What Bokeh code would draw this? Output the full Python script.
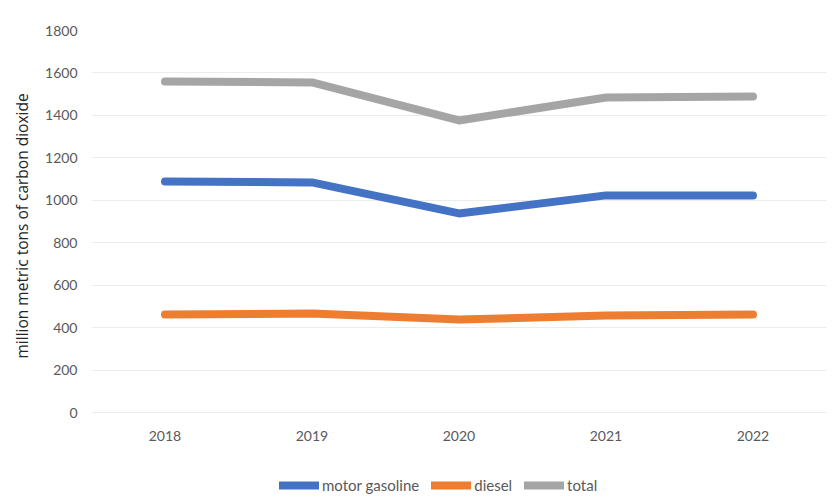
from bokeh.plotting import figure
from bokeh.models import Legend, LegendItem, FactorRange, Title
from bokeh.embed import file_html
from bokeh.resources import INLINE

years = ["2018", "2019", "2020", "2021", "2022"]
motor_gasoline = [1089, 1084, 938, 1023, 1023]
diesel = [462, 466, 438, 457, 462]
total = [1560, 1555, 1376, 1484, 1489]
y_ticks = [0, 200, 400, 600, 800, 1000, 1200, 1400, 1600, 1800]
y_title = "million metric tons of carbon dioxide"

# frame runs from the 1800 line down to the bottom of the page (legend sits inside it)
px_per_unit = 382 / 1800
frame_h = 474
y_min = 1800 - frame_h / px_per_unit

p = figure(frame_width=735, frame_height=frame_h, x_range=FactorRange(*years), y_range=(y_min, 1800),
           output_backend="svg", toolbar_location=None,
           min_border_left=91, min_border_right=1, min_border_top=30, min_border_bottom=0)
p.outline_line_color = None

r1 = p.line(years, motor_gasoline, line_color="#4472C4", line_width=8, line_cap="round", line_join="round")
r2 = p.line(years, diesel, line_color="#ED7D31", line_width=8, line_cap="round", line_join="round")
r3 = p.line(years, total, line_color="#A5A5A5", line_width=8, line_cap="round", line_join="round")

p.yaxis.ticker = y_ticks

for ax in (p.xaxis, p.yaxis):
    ax.axis_line_color = None
    ax.major_tick_line_color = None
    ax.minor_tick_line_color = None
    ax.major_tick_out = 0
    ax.minor_tick_out = 0
    ax.major_label_text_font = "Lato"
    ax.major_label_text_font_size = "14px"
    ax.major_label_text_color = "#595959"
p.yaxis.major_label_standoff = 14
p.xaxis.major_label_standoff = 18
p.xaxis.fixed_location = 0

# rotated axis title, placed along the 0..1800 part of the frame
t = Title(text=y_title, align="left", offset=146, vertical_align="middle", standoff=18,
          text_font="Open Sans", text_font_size="15.5px", text_font_style="normal",
          text_color="#262626")
p.add_layout(t, "left")

p.xgrid.grid_line_color = None
p.ygrid.grid_line_color = "#ececec"
p.ygrid.grid_line_width = 1

legend = Legend(items=[LegendItem(label="motor gasoline", renderers=[r1]),
                       LegendItem(label="diesel", renderers=[r2]),
                       LegendItem(label="total", renderers=[r3])],
                orientation="horizontal", location=(188, 10),
                label_text_font="Lato", label_text_font_size="15px", label_text_color="#595959",
                glyph_width=40, glyph_height=16, spacing=12, label_standoff=3,
                border_line_color=None, background_fill_alpha=0, margin=0, padding=0)
p.add_layout(legend, "center")

open("out.html", "w").write(file_html(p, INLINE))
